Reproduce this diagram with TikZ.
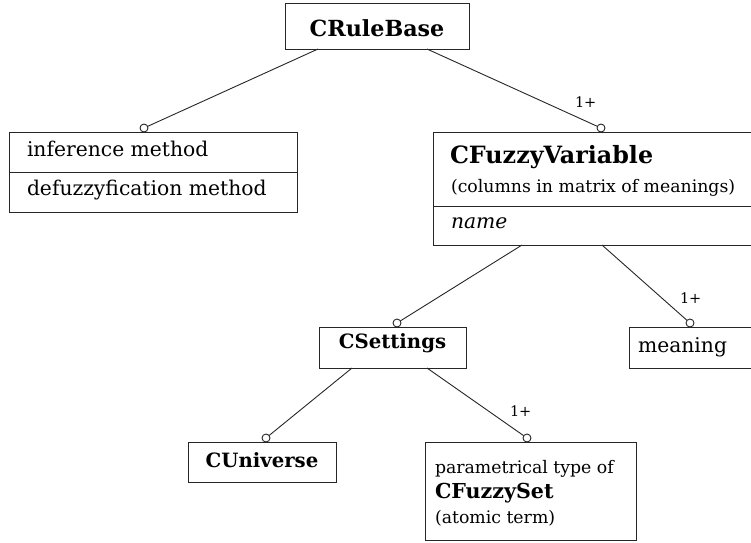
\documentclass[tikz,border=0pt]{standalone}
\usepackage{fontspec}
\setmainfont{DejaVu Serif}
\newcommand{\fsMain}{\fontsize{20.3}{24}\selectfont}
\newcommand{\fsSub}{\fontsize{17.3}{21}\selectfont}
\newcommand{\fsSmall}{\fontsize{17.3}{21}\selectfont}
\newcommand{\fsMult}{\fontsize{14.5}{17}\selectfont}
\newcommand{\fsBigB}{\fontsize{23.8}{29}\selectfont\bfseries}
\newcommand{\fsRB}{\fontsize{22.2}{26}\selectfont\bfseries}
\newcommand{\fsFS}{\fontsize{20.6}{25}\selectfont\bfseries}
\newcommand{\fsSmB}{\fontsize{19.7}{23}\selectfont\bfseries}
\begin{document}
\begin{tikzpicture}[x=1pt,y=-1pt,
  every node/.style={inner sep=0pt, outer sep=0pt},
  box/.style={draw=black!85, line width=0.9pt, anchor=north west},
  conn/.style={draw=black!85, line width=0.9pt},
  mult/.style={circle, draw=black!85, line width=0.9pt, minimum size=8pt, inner sep=0pt, fill=white},
  lbl/.style={anchor=base west, inner sep=0pt},
  multlbl/.style={anchor=base west, inner sep=0pt, font=\fsMult}]
\useasboundingbox (0,0) rectangle (751,542);
\clip (0,0) rectangle (751,542);
% boxes
\node[box, minimum width=184pt, minimum height=46pt] (rb) at (285,3) {};
\node[anchor=base, font=\fsRB] (rbt) at (377,36) {CRuleBase};

\node[box, minimum width=288pt, minimum height=80pt] (ctrl) at (9,132) {};
\draw[conn] (9,172) -- (297,172);
\node[lbl, font=\fsMain] (inf) at (27,156) {inference method};
\node[lbl, font=\fsMain] (def) at (27,195) {defuzzyfication method};

\node[box, minimum width=330pt, minimum height=113pt] (fv) at (433,132) {};
\draw[conn] (433,206) -- (763,206);
\node[lbl, font=\fsBigB] (fvt) at (450,163) {CFuzzyVariable};
\node[lbl, font=\fsSub] (fvs) at (451,192) {(columns in matrix of meanings)};
\node[lbl, font=\fsMain\itshape] (fvn) at (451,228) {name};

\node[box, minimum width=147pt, minimum height=41pt] (cs) at (319,327) {};
\node[anchor=base, font=\fsSmB] (cst) at (392.5,348) {CSettings};

\node[box, minimum width=134pt, minimum height=41pt] (mn) at (629,327) {};
\node[lbl, font=\fsMain] (mnt) at (638,352) {meaning};

\node[box, minimum width=148pt, minimum height=40pt] (cu) at (188,442) {};
\node[anchor=base, font=\fsSmB] (cut) at (262,467) {CUniverse};

\node[box, minimum width=211pt, minimum height=98pt] (fs) at (425,442) {};
\node[lbl, font=\fsSmall] (fs1) at (435,473) {parametrical type of};
\node[lbl, font=\fsFS] (fs2) at (435,498) {CFuzzySet};
\node[lbl, font=\fsSmall] (fs3) at (435,523) {(atomic term)};

% connectors
\coordinate (rbL) at (318,49);
\coordinate (rbR) at (427,49);
\coordinate (fvL) at (522,245);
\coordinate (fvR) at (602,245);
\coordinate (csL) at (352,368);
\coordinate (csR) at (427,368);
\node[mult] (m1) at (144,128) {};
\node[mult] (m2) at (601,128) {};
\node[mult] (m3) at (397,323) {};
\node[mult] (m4) at (690,323) {};
\node[mult] (m5) at (266,438) {};
\node[mult] (m6) at (527,438) {};
\draw[conn] (rbL) -- (m1);
\draw[conn] (rbR) -- (m2);
\draw[conn] (fvL) -- (m3);
\draw[conn] (fvR) -- (m4);
\draw[conn] (csL) -- (m5);
\draw[conn] (csR) -- (m6);
\node[multlbl] (l1) at (575,107) {1+};
\node[multlbl] (l2) at (680,303) {1+};
\node[multlbl] (l3) at (510,416) {1+};
\end{tikzpicture}
\end{document}
